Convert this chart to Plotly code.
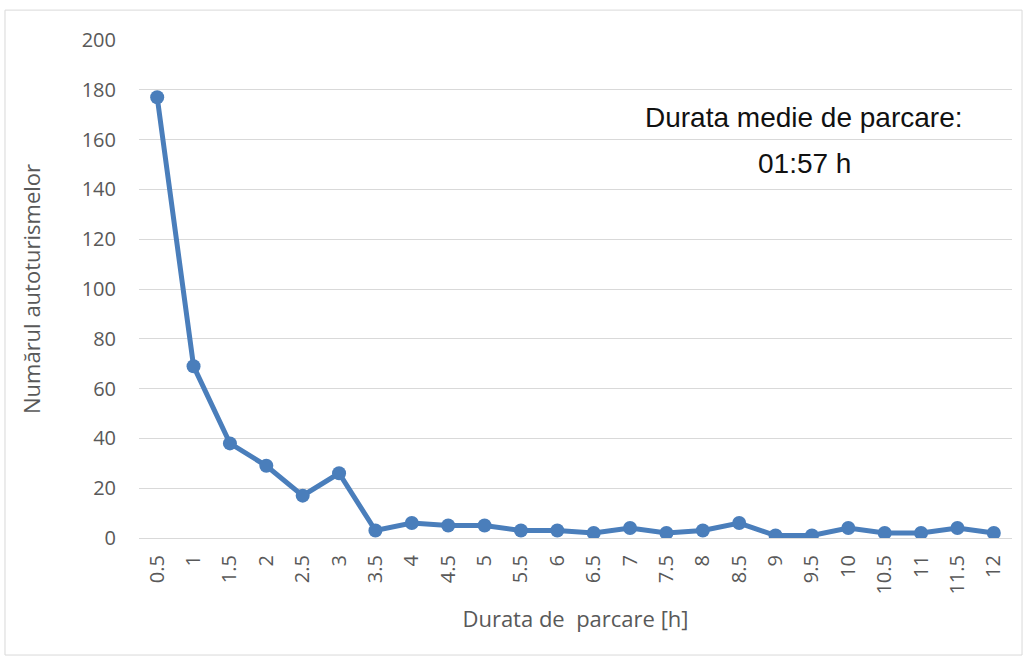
import plotly.graph_objects as go

durations = ["0.5", "1", "1.5", "2", "2.5", "3", "3.5", "4", "4.5", "5", "5.5", "6",
             "6.5", "7", "7.5", "8", "8.5", "9", "9.5", "10", "10.5", "11", "11.5", "12"]
cars = [177, 69, 38, 29, 17, 26, 3, 6, 5, 5, 3, 3,
        2, 4, 2, 3, 6, 1, 1, 4, 2, 2, 4, 2]
y_ticks = [0, 20, 40, 60, 80, 100, 120, 140, 160, 180, 200]

BLUE = "#4a7ebb"
GREY = "#595959"
FONT = "Open Sans"

fig = go.Figure()
fig.add_trace(
    go.Scatter(
        x=durations,
        y=cars,
        mode="lines+markers",
        line={"color": BLUE, "width": 5},
        marker={"color": BLUE, "size": 14},
        showlegend=False,
    )
)

# white box behind the mean-duration note, hides the gridlines
fig.add_shape(
    type="rect", xref="paper", yref="y",
    x0=0.54, x1=0.985, y0=135, y1=185,
    fillcolor="white", line={"width": 0}, layer="between",
)
note_font = {"family": "Liberation Sans", "size": 28, "color": "#111111"}
fig.add_annotation(
    text="Durata medie de parcare:", xref="paper", yref="y",
    x=0.762, y=169, xanchor="center", yanchor="middle",
    showarrow=False, font=note_font,
)
fig.add_annotation(
    text="01:57 h", xref="paper", yref="y",
    x=0.762, y=150.5, xanchor="center", yanchor="middle",
    showarrow=False, font=note_font,
)

# outer chart border
fig.add_shape(
    type="rect", xref="paper", yref="paper",
    x0=-0.1535, x1=1.0115, y0=-0.235, y1=1.06,
    line={"color": "#d9d9d9", "width": 1}, fillcolor="rgba(0,0,0,0)",
)

fig.update_layout(
    width=1028,
    height=662,
    margin={"l": 139, "r": 16, "t": 40, "b": 124},
    paper_bgcolor="white",
    plot_bgcolor="white",
    font={"family": FONT, "color": GREY},
    xaxis={
        "type": "category",
        "range": [-0.5, len(durations) - 0.5],
        "tickangle": -90,
        "tickfont": {"size": 20, "color": GREY},
        "showgrid": False,
        "showline": True,
        "linecolor": "#d9d9d9",
        "linewidth": 1,
        "ticklabelstandoff": 8,
        "automargin": False,
        "title": {"text": "Durata de\u00a0\u00a0parcare [h]", "font": {"size": 22, "color": GREY}, "standoff": 18},
    },
    yaxis={
        "range": [0, 200],
        "tickvals": y_ticks,
        "tickfont": {"size": 20, "color": GREY},
        "showgrid": True,
        "gridcolor": "#d9d9d9",
        "gridwidth": 1,
        "zeroline": False,
        "showline": False,
        "ticklabelstandoff": 22,
        "automargin": False,
        "title": {"text": "Numărul autoturismelor", "font": {"size": 22, "color": GREY}, "standoff": 34},
    },
)

# drop the default 8px body margin so the chart sits at the page corner
fig.write_html(
    "out.html",
    config={"displayModeBar": False},
    post_script="document.body.style.margin='0px';",
)
